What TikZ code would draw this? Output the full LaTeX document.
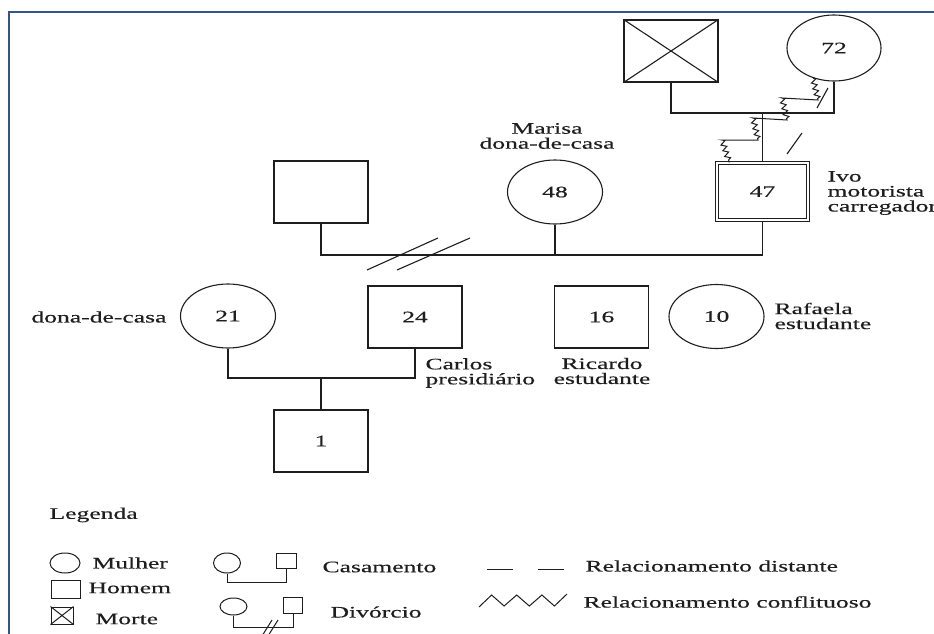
\documentclass[tikz,border=0pt]{standalone}
\usepackage{fontspec}
\setmainfont{Liberation Serif}[FakeStretch=1.6,FakeBold=0.35]
\usetikzlibrary{shapes.geometric,decorations.pathmorphing}
\definecolor{framebl}{RGB}{52,84,136}
\definecolor{ink}{RGB}{30,30,30}

\begin{document}
\begin{tikzpicture}[x=1pt,y=-1pt,line width=1.1pt,draw=ink,
  every node/.style={inner sep=0pt,text=ink,font=\fontsize{16}{15}\selectfont},
  male/.style={draw,rectangle,minimum width=94pt,minimum height=62pt},
  female/.style={draw,ellipse,minimum width=95pt,minimum height=64pt},
  lgfemale/.style={draw,ellipse,line width=1pt},
  lgmale/.style={draw,rectangle,line width=1pt},
  tie/.style={line width=1.1pt},
  cut/.style={line width=1.1pt},
  conflict/.style={decoration={zigzag,segment length=6pt,amplitude=2.6pt}},
  frame/.style={draw=framebl,line width=2pt}]

\useasboundingbox (0,0) rectangle (934,634);
\fill[white] (0,0) rectangle (934,634);

% page frame
\draw[frame] (934,12.5) -- (8.5,12.5) -- (8.5,634);

% grandparents
\node[male] (fa) at (671,51) {};
\draw (fa.north west) -- (fa.south east) (fa.north east) -- (fa.south west);
\node[female,minimum width=94pt,minimum height=66pt] (m72) at (834,48) {72};
\coordinate (topline) at (0,113);
\draw[tie] (fa.south) -- (fa.south |- topline) -| (m72.south);

% parents
\node[male] (ex) at (321,192) {};
\node[female] (marisa) at (555,192) {48};
\node[draw,rectangle,double,double distance=1.6pt,minimum width=91.2pt,minimum height=57.2pt] (ivo) at (762.5,191.5) {47};
\draw[tie] (ivo.north) -- (ivo.north |- topline);

\coordinate (famline) at (0,255);
\draw[tie] (ex.south) -- (ex.south |- famline) -- (ivo.south |- famline) -- (ivo.south);
\draw[tie] (marisa.south) -- (marisa.south |- famline);

% divorce marks
\coordinate (dvA1) at (367,270); \coordinate (dvA2) at (438,238);
\coordinate (dvB1) at (397,270); \coordinate (dvB2) at (470,238);
\draw[cut] (dvA1) -- (dvA2) (dvB1) -- (dvB2);

% conflictual tie between 72 and 47
\coordinate (cf1) at (818,100); \coordinate (cf2) at (782,98);
\coordinate (cf3) at (787,120); \coordinate (cf4) at (753,118);
\coordinate (cf5) at (758,140); \coordinate (cf6) at (722,140);
\draw[conflict,line width=1pt] (m72.235) decorate{-- (cf1)} -- (cf2) decorate{-- (cf3)} -- (cf4)
  decorate{-- (cf5)} -- (cf6) decorate{-- ([xshift=13pt]ivo.north west)};

% distant tie between 72 and 47
\coordinate (ds1) at (817,108); \coordinate (ds2) at (828,88);
\coordinate (ds3) at (787,154); \coordinate (ds4) at (802,133);
\draw (ds1) -- (ds2) (ds3) -- (ds4);

% children
\node[female] (w21) at (228,316) {21};
\node[male] (carlos) at (415,317) {24};
\node[male] (ricardo) at (601.5,317) {16};
\node[female] (rafaela) at (716.5,316.5) {10};
\node[male] (child1) at (321,441) {1};
\coordinate (kidline) at (0,378);
\draw[tie] (w21.south) -- (w21.south |- kidline) -- (carlos.south |- kidline) -- (carlos.south);
\draw[tie] (child1.north) -- (child1.north |- kidline);

% labels
\node[align=center] (lbMarisa) at (547,136) {Marisa\\dona-de-casa};
\node[align=left,anchor=west] (lbIvo) at (827,193) {Ivo\\motorista\\carregador};
\node[anchor=east] (lbW21) at (167,317) {dona-de-casa};
\node[align=left,anchor=west] (lbCarlos) at (425,373) {Carlos\\presidiário};
\node[align=center] (lbRicardo) at (602,371) {Ricardo\\estudante};
\node[align=left,anchor=west] (lbRafaela) at (774,316) {Rafaela\\estudante};

% legend
\node[anchor=west] (lgTitle) at (49,515) {Legenda};

\node[lgfemale,minimum width=30pt,minimum height=20pt] (lgW) at (65,563) {};
\node[anchor=west] (lgWt) at (92,563) {Mulher};
\node[lgmale,minimum width=29pt,minimum height=18pt] (lgH) at (65.5,589) {};
\node[anchor=west] (lgHt) at (88,588) {Homem};
\node[lgmale,minimum width=22pt,minimum height=17pt] (lgM) at (62,615.5) {};
\draw[line width=1pt] (lgM.north west) -- (lgM.south east) (lgM.north east) -- (lgM.south west);
\node[anchor=west] (lgMt) at (95,619) {Morte};

\node[lgfemale,minimum width=27pt,minimum height=20pt] (lgCw) at (227,563) {};
\node[lgmale,minimum width=20pt,minimum height=15pt] (lgCm) at (286,560.5) {};
\draw[line width=1pt] (lgCw.south) -- ++(0,9) -| (lgCm.south);
\node[anchor=west] (lgCt) at (322,567) {Casamento};

\node[lgfemale,minimum width=27pt,minimum height=17pt] (lgDw) at (233.5,606.5) {};
\node[lgmale,minimum width=19pt,minimum height=16pt] (lgDm) at (293,605) {};
\draw[line width=1pt] (lgDw.south) -- ++(0,12) -| (lgDm.south);
\coordinate (lgs1) at (262,636); \coordinate (lgs2) at (272,620);
\coordinate (lgs3) at (268,636); \coordinate (lgs4) at (278,620);
\draw[line width=1pt] (lgs1) -- (lgs2) (lgs3) -- (lgs4);
\node[anchor=west] (lgDt) at (330,612) {Divórcio};

\coordinate (lgd1) at (487,569); \coordinate (lgd2) at (565,569);
\draw[line width=1pt,dash pattern=on 26pt off 25pt] (lgd1) -- (lgd2);
\node[anchor=west] (lgDst) at (585,566) {Relacionamento distante};

\draw[line width=1pt] (479,607) -- (491.6,595) -- (504.1,606) -- (516.7,595) -- (529.3,606)
  -- (541.9,595) -- (554.4,606) -- (567,594);
\node[anchor=west] (lgCft) at (583,602) {Relacionamento conflituoso};
\end{tikzpicture}
\end{document}
